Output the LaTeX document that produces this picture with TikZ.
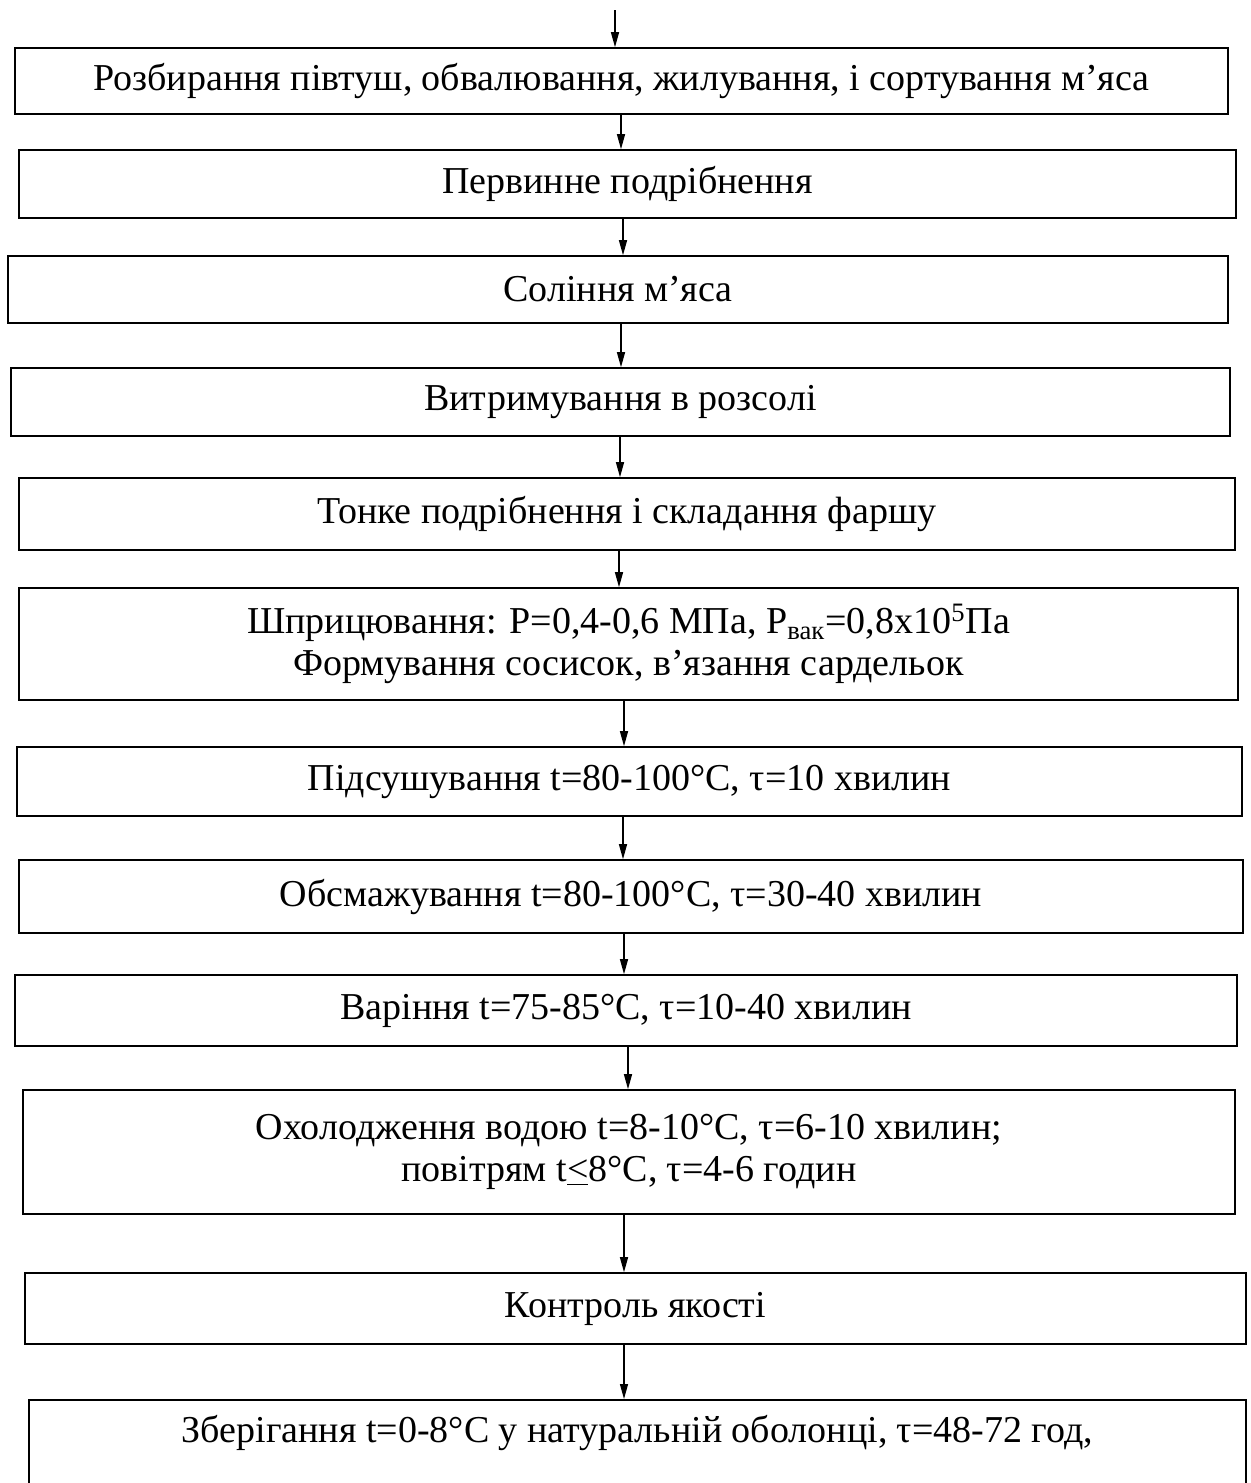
\documentclass[tikz,border=0pt]{standalone}
\usepackage{fontspec}
\setmainfont{Liberation Serif}
\usetikzlibrary{arrows.meta}
\begin{document}
\begin{tikzpicture}[x=0.5pt,y=-0.5pt,
  box/.style={draw, line width=0.8pt, inner sep=0pt, align=center, font=\fontsize{19pt}{21pt}\selectfont},
  txt/.style={inner sep=0pt, align=center, font=\fontsize{19pt}{21pt}\selectfont},
  arr/.style={line width=0.65pt, -{Triangle[length=7.5pt,width=4pt]}}]
\useasboundingbox (0,0) rectangle (1251,1483);
\clip (0,0) rectangle (1251,1483);
\fill[white] (0,0) rectangle (1251,1483);

\node[box, minimum width=606.5pt, minimum height=33pt] (b1) at (621.5,81)
  {Розбирання півтуш, обвалювання, жилування, і сортування м’яса};
\node[box, minimum width=608.5pt, minimum height=34pt] (b2) at (627.5,184)
  {Первинне подрібнення};
\node[box, minimum width=610pt, minimum height=33.5pt] (b3) at (618,289.5)
  {Соління м’яса};
\node[box, minimum width=609.5pt, minimum height=34pt] (b4) at (620.5,402)
  {Витримування в розсолі};
\node[box, minimum width=608pt, minimum height=36pt] (b5) at (627,514)
  {Тонке подрібнення і складання фаршу};
\node[box, minimum width=609.5pt, minimum height=56pt] (b6) at (628.5,644)
  {Шприцювання: Р=0,4-0,6 МПа, Р\textsubscript{вак}=0,8х10\textsuperscript{5}Па\\Формування сосисок, в’язання сардельок};
\node[box, minimum width=612.5pt, minimum height=34.5pt] (b7) at (629.5,781.5)
  {Підсушування t=80-100°С, τ=10 хвилин};
\node[box, minimum width=612pt, minimum height=36.5pt] (b8) at (631,896.5)
  {Обсмажування t=80-100°С, τ=30-40 хвилин};
\node[box, minimum width=611pt, minimum height=35.5pt] (b9) at (626,1010.5)
  {Варіння t=75-85°С, τ=10-40 хвилин};
\node[box, minimum width=606pt, minimum height=62pt] (b10) at (629,1152)
  {Охолодження водою t=8-10°С, τ=6-10 хвилин;\\повітрям t\underline{<}8°С, τ=4-6 годин};
\node[box, minimum width=610.5pt, minimum height=35.5pt] (b11) at (635.5,1308.5)
  {Контроль якості};
\node[box, anchor=north, minimum width=608.5pt, minimum height=100pt] (b12) at (637.5,1399) {};
\node[txt] (b12t) at (637.5,1433)
  {Зберігання t=0-8°С у натуральній оболонці, τ=48-72 год,};

\coordinate (ax1) at (615,10);
\coordinate (ax2) at (621,0);
\coordinate (ax3) at (623,0);
\coordinate (ax4) at (621,0);
\coordinate (ax5) at (620,0);
\coordinate (ax6) at (619,0);
\coordinate (ax7) at (624,0);
\coordinate (ax8) at (623,0);
\coordinate (ax9) at (624,0);
\coordinate (ax10) at (628,0);
\coordinate (ax11) at (624,0);
\coordinate (ax12) at (624,0);

\draw[arr] (ax1) -- (b1.north -| ax1);
\draw[arr] (b1.south -| ax2) -- (b2.north -| ax2);
\draw[arr] (b2.south -| ax3) -- (b3.north -| ax3);
\draw[arr] (b3.south -| ax4) -- (b4.north -| ax4);
\draw[arr] (b4.south -| ax5) -- (b5.north -| ax5);
\draw[arr] (b5.south -| ax6) -- (b6.north -| ax6);
\draw[arr] (b6.south -| ax7) -- (b7.north -| ax7);
\draw[arr] (b7.south -| ax8) -- (b8.north -| ax8);
\draw[arr] (b8.south -| ax9) -- (b9.north -| ax9);
\draw[arr] (b9.south -| ax10) -- (b10.north -| ax10);
\draw[arr] (b10.south -| ax11) -- (b11.north -| ax11);
\draw[arr] (b11.south -| ax12) -- (b12.north -| ax12);
\end{tikzpicture}
\end{document}
